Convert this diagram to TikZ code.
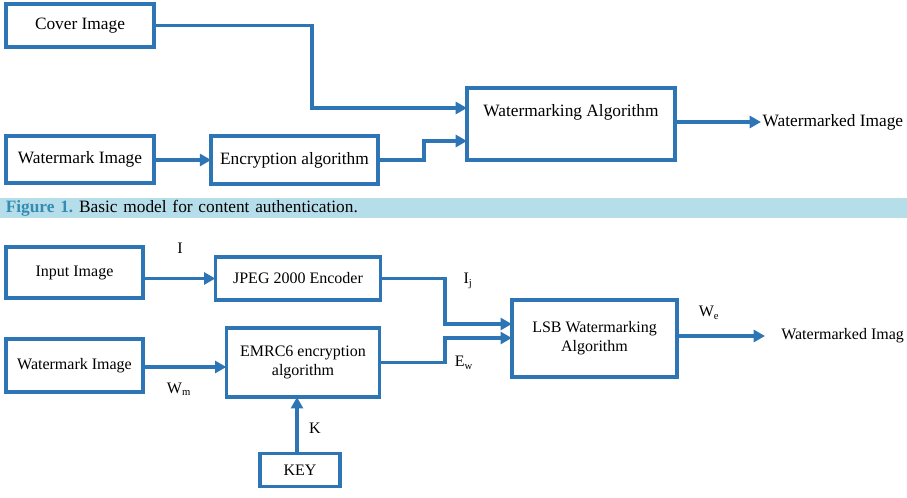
\documentclass[tikz,border=0pt]{standalone}
\usepackage{fontspec}
\setmainfont{Liberation Serif}
\usetikzlibrary{arrows.meta, positioning, calc}
\definecolor{lineblue}{RGB}{46, 117, 182}
\definecolor{capband}{RGB}{182, 222, 234}
\definecolor{capteal}{RGB}{52, 140, 178}

\begin{document}
\begin{tikzpicture}[
  x=0.75pt, y=-0.75pt,
  box/.style={draw=lineblue, line width=2.6pt, align=center, inner sep=2pt, outer sep=0pt},
  lbl/.style={inner sep=0pt, font=\fontsize{12}{14}\selectfont},
  arr/.style={-{Triangle[length=8.5pt, width=9pt]}, lineblue, line width=2.6pt}
]
  \useasboundingbox (0,0) rectangle (907,498);

  % figure 1
  \begin{scope}[font=\fontsize{13}{16}\selectfont]
    \node[box, minimum width=111pt, minimum height=32pt] (cover) at (80,25.5) {Cover Image};
    \node[box, minimum width=111pt, minimum height=35pt] (wimgA) at (80,159.5) {Watermark Image};
    \node[box, minimum width=125pt, minimum height=36pt] (enc) at (294.5,160) {Encryption algorithm};
    \node[box, minimum width=156pt, minimum height=54pt] (wmalg) at (571,124) {Watermarking Algorithm\\ \strut};
    \node[anchor=west, inner sep=1pt] (outA) at (761,122) {Watermarked Image};
  \end{scope}

  \coordinate (c1) at (312,108);
  \coordinate (c2) at (424,141);
  \draw[arr] (cover.east) -| (c1) -- (c1 -| wmalg.west);
  \draw[arr] (wimgA.east |- enc.west) -- (enc.west);
  \draw[arr] (enc.east) -| (c2) -- (c2 -| wmalg.west);
  \draw[arr] (wmalg.east |- outA.west) -- (outA.west);

  % caption band
  \node[fill=capband, anchor=west, minimum width=680.25pt, minimum height=15pt,
        inner sep=0pt, text width=676pt, align=left, font=\fontsize{13}{14}\selectfont]
    (cap) at (0,208) {\frenchspacing\hspace*{2pt}\textcolor{capteal}{\bfseries Figure 1.} Basic model for content authentication.};

  % figure 2
  \begin{scope}[font=\fontsize{12}{14}\selectfont]
    \node[box, minimum width=103pt, minimum height=38pt] (inimg) at (74.5,272.5) {Input Image};
    \node[box, minimum width=124pt, minimum height=32pt] (jpeg) at (298,278.5) {JPEG 2000 Encoder};
    \node[box, minimum width=103pt, minimum height=40pt] (wimgB) at (74.5,365.5) {Watermark Image};
    \node[box, minimum width=115pt, minimum height=52pt] (emrc) at (303,362.5) {EMRC6 encryption\\algorithm};
    \node[box, minimum width=60pt, minimum height=25pt] (key) at (300,470) {KEY};
    \node[box, minimum width=124pt, minimum height=58pt] (lsb) at (594.5,338.5) {LSB Watermarking\\Algorithm};
    \node[anchor=west, inner sep=0pt] (outB) at (781,336) {Watermarked Imag};
  \end{scope}

  \coordinate (j1) at (445,324);
  \coordinate (e1) at (445,338);
  \draw[arr] (inimg.east |- jpeg.west) -- (jpeg.west);
  \draw[arr] (wimgB.east |- 0,367) -- (emrc.west |- 0,367);
  \draw[arr] (key.north -| 297,0) -- (emrc.south -| 297,0);
  \draw[arr] (jpeg.east) -| (j1) -- (j1 -| lsb.west);
  \draw[arr] (emrc.east) -| (e1) -- (e1 -| lsb.west);
  \draw[arr, shorten >=12pt] (lsb.east |- outB.west) -- (outB.west);

  % signal labels
  \node[lbl] (lI) at (180,248) {I};
  \node[lbl] (lIj) at (468,281) {I\textsubscript{j}};
  \node[lbl] (lEw) at (464,363) {E\textsubscript{w}};
  \node[lbl] (lWm) at (179,389) {W\textsubscript{m}};
  \node[lbl] (lK) at (315,428) {K};
  \node[lbl] (lWe) at (709,313) {W\textsubscript{e}};
\end{tikzpicture}
\end{document}
